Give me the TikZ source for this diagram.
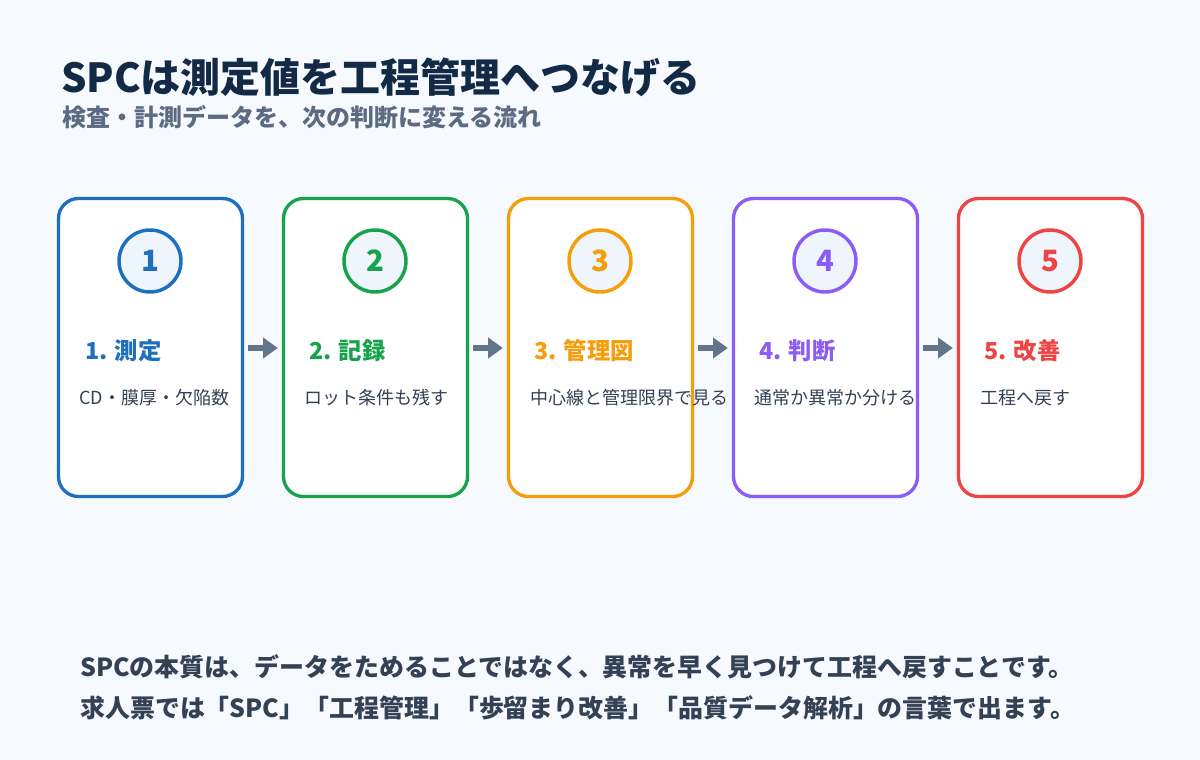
\documentclass[tikz,border=0pt]{standalone}
\usepackage{fontspec}
\setmainfont{Noto Sans CJK JP}
\newfontfamily\jp{Noto Sans CJK JP}
\usetikzlibrary{arrows.meta}
\definecolor{bg}{HTML}{F6F9FE}
\definecolor{titlec}{HTML}{132A46}
\definecolor{subc}{HTML}{5B6B82}
\definecolor{bodyc}{HTML}{334155}
\definecolor{arrowc}{HTML}{64748B}
\definecolor{circfill}{HTML}{EEF5FD}
\definecolor{cA}{HTML}{1F6FC0}
\definecolor{cB}{HTML}{16A34A}
\definecolor{cC}{HTML}{F59E0B}
\definecolor{cD}{HTML}{8B5CF6}
\definecolor{cE}{HTML}{EF4444}
\tikzset{
  stepbox/.style={draw=#1, fill=white, line width=2.5pt, rounded corners=15pt,
    minimum width=138pt, minimum height=223.5pt, inner sep=0pt},
  numcirc/.style={draw=#1, fill=circfill, line width=2.6pt, circle,
    minimum size=46.5pt, inner sep=0pt, text=#1, font=\jp\bfseries\fontsize{22}{26}\selectfont},
  headtxt/.style={anchor=west, inner sep=0pt, text=#1, font=\jp\bfseries\fontsize{17.5}{21}\selectfont},
  desctxt/.style={anchor=west, inner sep=0pt, text=bodyc, font=\jp\fontsize{13.5}{16}\selectfont},
  flow/.style={draw=arrowc, line width=4pt, -{Triangle[length=11pt,width=15pt]}, shorten <=3pt, shorten >=3pt},
  bottomtxt/.style={anchor=west, inner sep=0pt, text=bodyc, font=\jp\bfseries\fontsize{18.7}{22}\selectfont}
}
\begin{document}
\begin{tikzpicture}[x=0.75pt,y=-0.75pt]
\fill[bg] (0,0) rectangle (1200,760);
\useasboundingbox (0,0) rectangle (1200,760);
\node[anchor=west, inner sep=0pt, text=titlec, font=\jp\bfseries\fontsize{30}{34}\selectfont] (title) at (61,77) {SPCは測定値を工程管理へつなげる};
\node[anchor=west, inner sep=0pt, text=subc, font=\jp\bfseries\fontsize{18}{21}\selectfont] (sub) at (62,117) {検査・計測データを、次の判断に変える流れ};

\node[stepbox=cA] (b1) at (150.5,347.5) {};
\node[stepbox=cB] (b2) at (375.5,347.5) {};
\node[stepbox=cC] (b3) at (600.5,347.5) {};
\node[stepbox=cD] (b4) at (825.5,347.5) {};
\node[stepbox=cE] (b5) at (1050.5,347.5) {};

\node[numcirc=cA] (n1) at (150,261) {1};
\node[numcirc=cB] (n2) at (375,261) {2};
\node[numcirc=cC] (n3) at (600,261) {3};
\node[numcirc=cD] (n4) at (825,261) {4};
\node[numcirc=cE] (n5) at (1050,261) {5};

\node[headtxt=cA] (h1) at (85,351) {1. 測定};
\node[headtxt=cB] (h2) at (309,351) {2. 記録};
\node[headtxt=cC] (h3) at (534,351) {3. 管理図};
\node[headtxt=cD] (h4) at (759,351) {4. 判断};
\node[headtxt=cE] (h5) at (984,351) {5. 改善};

\node[desctxt] (d1) at (79,398) {CD・膜厚・欠陥数};
\node[desctxt] (d2) at (304,398) {ロット条件も残す};
\node[desctxt] (d3) at (530,398) {中心線と管理限界で見る};
\node[desctxt] (d4) at (754,398) {通常か異常か分ける};
\node[desctxt] (d5) at (980,398) {工程へ戻す};

\coordinate (a1s) at (b1.east |- 0,348);
\coordinate (a1e) at (b2.west |- 0,348);
\coordinate (a2s) at (b2.east |- 0,348);
\coordinate (a2e) at (b3.west |- 0,348);
\coordinate (a3s) at (b3.east |- 0,348);
\coordinate (a3e) at (b4.west |- 0,348);
\coordinate (a4s) at (b4.east |- 0,348);
\coordinate (a4e) at (b5.west |- 0,348);
\draw[flow] (a1s) -- (a1e);
\draw[flow] (a2s) -- (a2e);
\draw[flow] (a3s) -- (a3e);
\draw[flow] (a4s) -- (a4e);

\node[bottomtxt] (t1) at (80,667) {SPCの本質は、データをためることではなく、異常を早く見つけて工程へ戻すことです。};
\node[bottomtxt] (t2) at (80,708) {求人票では「SPC」「工程管理」「歩留まり改善」「品質データ解析」の言葉で出ます。};
\end{tikzpicture}
\end{document}
